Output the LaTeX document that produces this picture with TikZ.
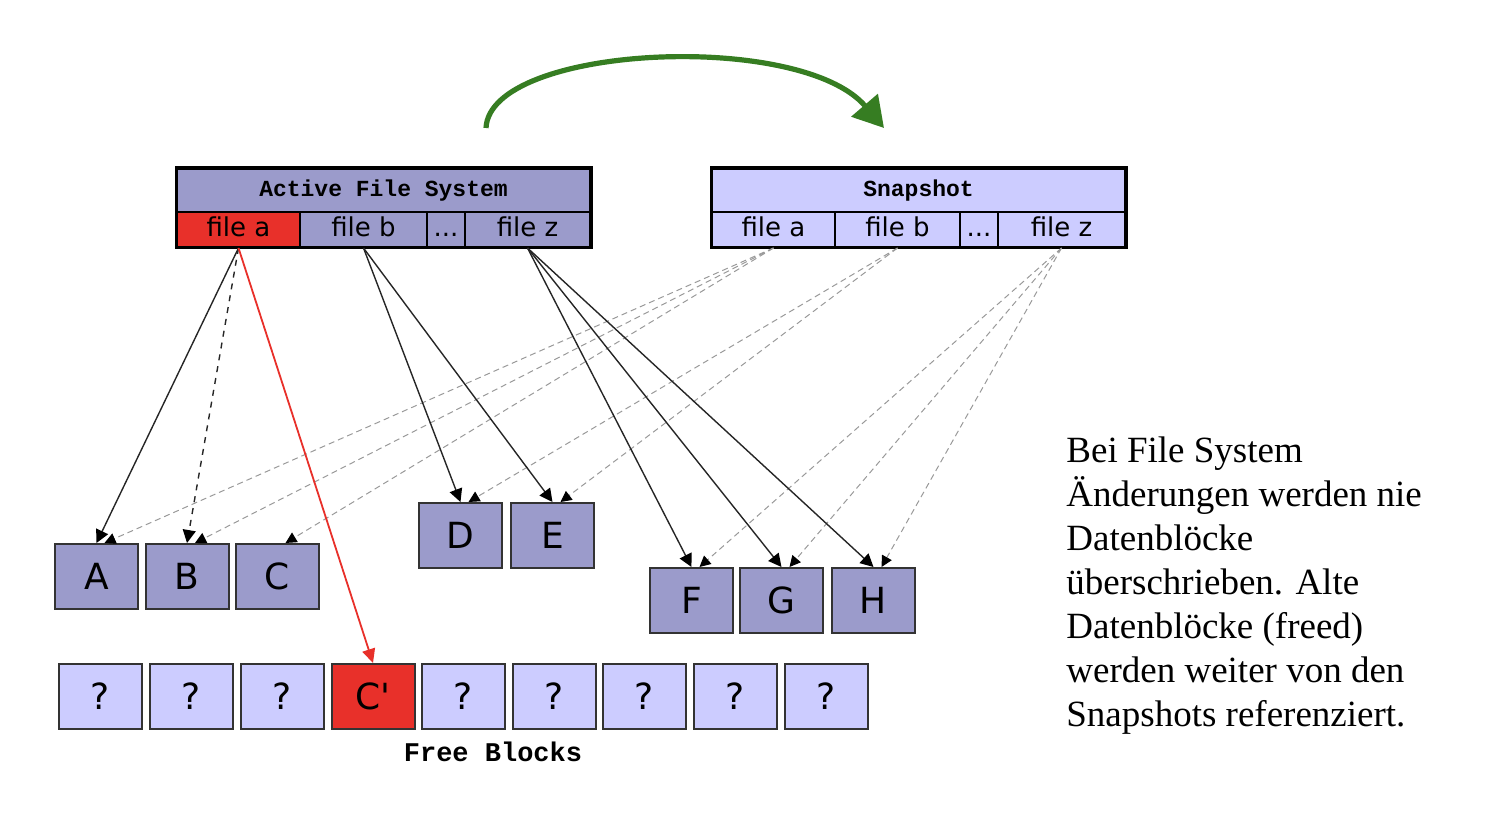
\documentclass[tikz,border=0pt]{standalone}
\usepackage{fontspec}
\setmainfont{Liberation Serif}
\setmonofont{Liberation Mono}
\newfontfamily\blockfont{DejaVu Sans}
\usetikzlibrary{arrows.meta}
\definecolor{fsdark}{HTML}{9B9BCB}
\definecolor{fslight}{HTML}{CCCCFF}
\definecolor{fsred}{HTML}{E8302A}
\definecolor{cowgreen}{HTML}{367D22}
\begin{document}
\begin{tikzpicture}[
    x=0.5pt, y=-0.5pt,
    every node/.style={align=center, inner sep=0pt},
    header/.style={draw=black, line width=1pt, minimum width=206.5pt, minimum height=21.5pt,
      font=\ttfamily\bfseries\fontsize{11.5}{12}\selectfont},
    cell/.style={draw=black, line width=1pt, minimum height=17.5pt, text height=9.5pt, text depth=2pt,
      font=\blockfont\fontsize{13}{14}\selectfont},
    frame/.style={draw=black, line width=1.5pt},
    block/.style={draw=black!80, line width=1pt, fill=fsdark, minimum width=41.5pt, minimum height=32.5pt,
      font=\blockfont\fontsize{18}{20}\selectfont},
    free block/.style={block, fill=fslight},
    active arrow/.style={draw=black!85, line width=0.7pt, -{Triangle[length=6.5pt,width=6.5pt,color=black]}},
    snap arrow/.style={draw=black!40, line width=0.5pt, densely dashed, -{Triangle[length=5.5pt,width=5.5pt,color=black]}},
    new arrow/.style={draw=fsred, line width=0.9pt, -{Triangle[length=7pt,width=6.5pt]}},
    cow arrow/.style={draw=cowgreen, line width=2.6pt, -{Triangle[length=15pt,width=17pt]}},
    ]
\useasboundingbox (0,0) rectangle (1492,828);
% active file system
\node[header, fill=fsdark] (afsHead) at (383.5,190.5) {Active File System};
\node[cell, fill=fsred, minimum width=61.5pt] (afsA) at (238.5,229.5) {file a};
\node[cell, fill=fsdark, minimum width=63.5pt] (afsB) at (363.5,229.5) {file b};
\node[cell, fill=fsdark, minimum width=19pt] (afsDots) at (446,229.5) {...};
\node[cell, fill=fsdark, minimum width=62.5pt] (afsZ) at (527.5,229.5) {file z};
\draw[frame] (afsHead.north west) rectangle (afsZ.south east);
% snapshot
\node[header, fill=fslight] (snapHead) at (918.5,190.5) {Snapshot};
\node[cell, fill=fslight, minimum width=61.5pt] (snapA) at (773.5,229.5) {file a};
\node[cell, fill=fslight, minimum width=62.5pt] (snapB) at (897.5,229.5) {file b};
\node[cell, fill=fslight, minimum width=19pt] (snapDots) at (979,229.5) {...};
\node[cell, fill=fslight, minimum width=63.5pt] (snapZ) at (1061.5,229.5) {file z};
\draw[frame] (snapHead.north west) rectangle (snapZ.south east);
% data blocks
\node[block] (A) at (96.5,576.5) {A};
\node[block] (B) at (187,576.5) {B};
\node[block] (C) at (277.5,576.5) {C};
\node[block] (D) at (460.5,535.5) {D};
\node[block] (E) at (552.5,535.5) {E};
\node[block] (F) at (691.5,600.5) {F};
\node[block] (G) at (781.5,600.5) {G};
\node[block] (H) at (873.5,600.5) {H};
% free blocks
\foreach \x/\n in {100/q1,191/q2,282/q3,463.5/q5,554/q6,644.5/q7,735/q8,826/q9}
  \node[free block] (\n) at (\x,696.5) {?};
\node[block, fill=fsred] (Cnew) at (373,696.5) {C'};
\node[font=\ttfamily\bfseries\fontsize{13.5}{14}\selectfont] (freeLabel) at (493,752) {Free Blocks};
% snapshot pointers
\foreach \b in {A,B,C}
  \draw[snap arrow] (snapA.south) -- ([xshift=4pt]\b.north);
\foreach \b in {D,E}
  \draw[snap arrow] (snapB.south) -- ([xshift=4pt]\b.north);
\foreach \b in {F,G,H}
  \draw[snap arrow] (snapZ.south) -- ([xshift=4pt]\b.north);
% active pointers
\draw[active arrow] (afsA.south) -- (A.north);
\draw[active arrow, dashed] (afsA.south) -- (B.north);
\draw[new arrow] (afsA.south) -- (Cnew.north);
\foreach \b in {D,E}
  \draw[active arrow] (afsB.south) -- (\b.north);
\foreach \b in {F,G,H}
  \draw[active arrow] (afsZ.south) -- (\b.north);
% snapshot copy arrow
\coordinate (cowStart) at (486,128);
\coordinate (cowEnd) at (884,128);
\draw[cow arrow] (cowStart) .. controls (490,45) and (800,30) .. (cowEnd);
% note
\node[anchor=north west, align=left, font=\fontsize{18.5}{22}\selectfont] (note) at (1066,436)
  {Bei File System\\ Änderungen werden nie\\ Datenblöcke\\ überschrieben. Alte\\
   Datenblöcke (freed)\\ werden weiter von den\\ Snapshots referenziert.};
\end{tikzpicture}
\end{document}
